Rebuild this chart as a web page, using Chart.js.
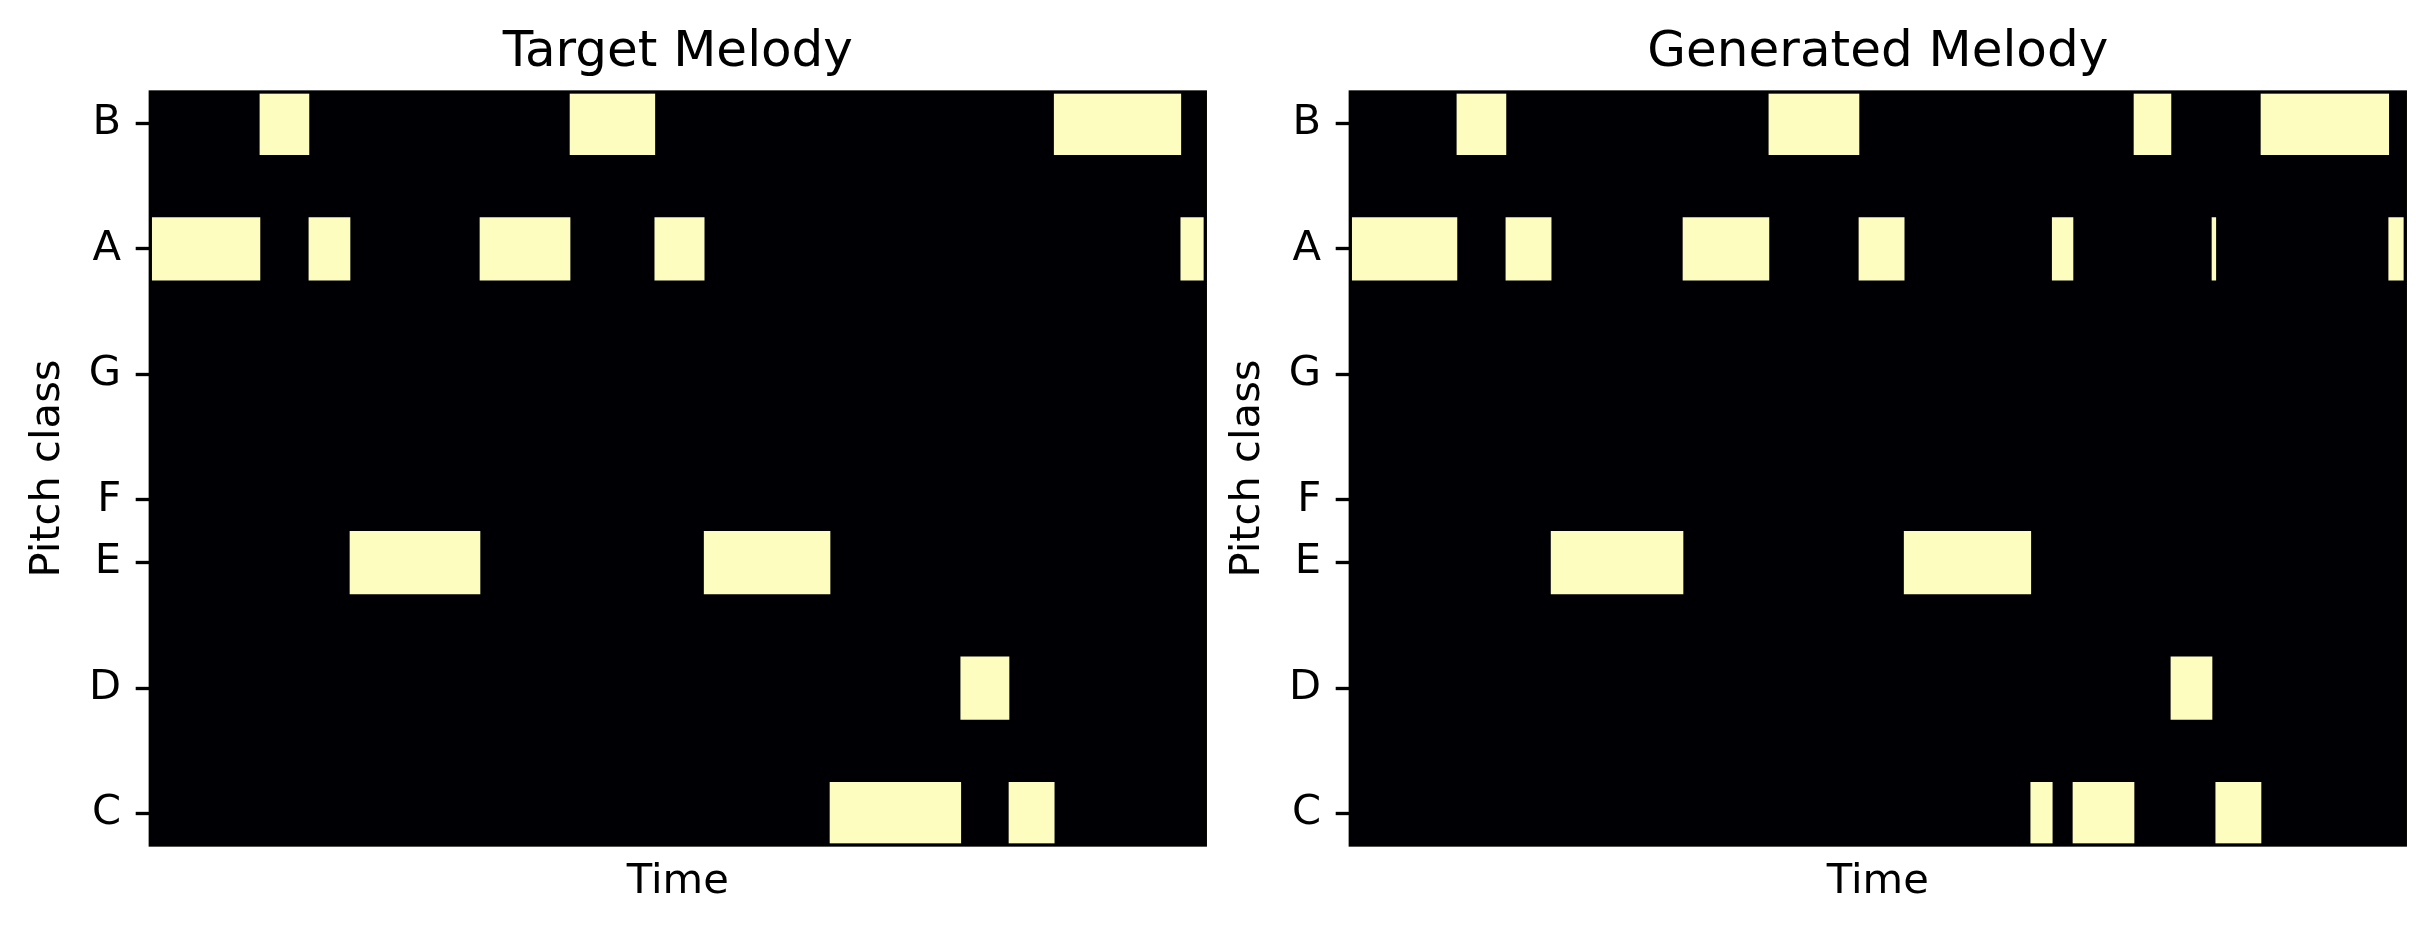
<!DOCTYPE html>
<html>
<head>
<meta charset="utf-8">
<script src="https://cdn.jsdelivr.net/npm/chart.js@4.4.1/dist/chart.umd.min.js"></script>
<style>
  html, body { margin: 0; padding: 0; background: #ffffff; }
  #wrap { position: relative; width: 2434px; height: 934px; overflow: hidden; }
  #wrap canvas { position: absolute; top: 0; }
</style>
</head>
<body>
<div id="wrap">
  <canvas id="left" width="1234" height="934" style="left:0px"></canvas>
  <canvas id="right" width="1234" height="934" style="left:1200px"></canvas>
</div>
<script>
// ---------------- data ----------------
const PITCH_CLASSES = ['C', 'C#', 'D', 'D#', 'E', 'F', 'F#', 'G', 'G#', 'A', 'A#', 'B'];
const TIME_STEPS = 280;

const TARGET_TITLE = 'Target Melody';
const targetPitches = ['A', 'B', 'A', 'E', 'A', 'B', 'A', 'E', 'C', 'D', 'C', 'B', 'A'];
const targetOnsets  = [0, 29.1, 42.1, 53.0, 87.5, 111.4, 133.9, 147.0, 180.4, 215.1, 227.9, 239.9, 273.5];
const targetOffsets = [29.1, 42.1, 53.0, 87.5, 111.4, 133.9, 147.0, 180.4, 215.1, 227.9, 239.9, 273.5, 280];

const GENERATED_TITLE = 'Generated Melody';
const generatedPitches = ['A', 'B', 'A', 'E', 'A', 'B', 'A', 'E', 'C', 'A', 'C', 'B', 'D', 'A', 'C', 'B', 'A'];
const generatedOnsets  = [0, 28.3, 41.3, 53.3, 88.3, 111.1, 135.0, 147.0, 180.6, 186.3, 191.8, 208.0, 217.8, 228.7, 229.7, 241.7, 275.6];
const generatedOffsets = [28.3, 41.3, 53.3, 88.3, 111.1, 135.0, 147.0, 180.6, 186.3, 191.8, 208.0, 217.8, 228.7, 229.7, 241.7, 275.6, 280];

const X_LABEL = 'Time';
const Y_LABEL = 'Pitch class';

// ---------------- style ----------------
const BG_COLOR = '#000004';
const NOTE_COLOR = '#fcfdbf';
const FONT = 'DejaVu Sans';
const TICK_FONT = 41.67;
const TITLE_FONT = 50;
const SPINE_W = 3.33;

Chart.defaults.font.family = FONT;
Chart.defaults.color = '#000000';

const isNatural = (name) => name.indexOf('#') === -1;

const framePlugin = {
  id: 'frame',
  beforeDatasetsDraw(chart) {
    const { ctx, chartArea: a } = chart;
    ctx.save();
    ctx.fillStyle = BG_COLOR;
    ctx.fillRect(a.left, a.top, a.right - a.left, a.bottom - a.top);
    ctx.restore();
  },
  afterDatasetsDraw(chart) {
    const { ctx, chartArea: a } = chart;
    ctx.save();
    ctx.strokeStyle = '#000000';
    ctx.lineWidth = SPINE_W;
    ctx.strokeRect(a.left, a.top, a.right - a.left, a.bottom - a.top);
    ctx.restore();
  }
};

function makeChart(canvasId, title, pitches, onsets, offsets) {
  const notes = pitches.map((p, i) => ({ x: [onsets[i], offsets[i]], y: p }));
  return new Chart(document.getElementById(canvasId), {
    type: 'bar',
    data: {
      labels: PITCH_CLASSES,
      datasets: [{
        data: notes,
        backgroundColor: NOTE_COLOR,
        borderWidth: 0,
        barPercentage: 1.0,
        categoryPercentage: 1.0,
        grouped: false
      }]
    },
    options: {
      indexAxis: 'y',
      responsive: false,
      animation: false,
      devicePixelRatio: 1,
      layout: { padding: { left: 0, right: 28.7, top: 0, bottom: 0 } },
      plugins: { legend: { display: false }, tooltip: { enabled: false }, title: { display: false } },
      scales: {
        x: {
          type: 'linear',
          position: 'bottom',
          min: 0,
          max: TIME_STEPS,
          ticks: { display: false },
          grid: { display: false },
          border: { display: false },
          title: {
            display: true,
            text: X_LABEL,
            font: { size: TICK_FONT, lineHeight: 1.2 },
            padding: { top: 0, bottom: 26.7 }
          },
          afterFit(scale) { scale.height = 89; }
        },
        x2: {
          type: 'linear',
          position: 'top',
          min: 0,
          max: TIME_STEPS,
          ticks: { display: false },
          grid: { display: false },
          border: { display: false },
          title: {
            display: true,
            text: title,
            font: { size: TITLE_FONT, lineHeight: 1.2 },
            padding: { top: 22.7, bottom: 0 }
          },
          afterFit(scale) { scale.height = 92; }
        },
        y: {
          type: 'category',
          position: 'left',
          reverse: true,
          offset: true,
          ticks: {
            autoSkip: false,
            padding: 14.6,
            font: { size: TICK_FONT },
            callback(value) {
              const name = this.getLabelForValue(value);
              return isNatural(name) ? name : '';
            }
          },
          grid: {
            display: true,
            offset: false,
            drawOnChartArea: false,
            drawTicks: true,
            tickLength: 14.6,
            tickWidth: SPINE_W,
            tickColor: (ctx) => (isNatural(PITCH_CLASSES[ctx.index] || 'C') ? '#000000' : 'rgba(0,0,0,0)')
          },
          border: { display: false },
          title: {
            display: true,
            text: Y_LABEL,
            font: { size: TICK_FONT, lineHeight: 1.2 },
            padding: { top: 23.6, bottom: 0 }
          },
          afterFit(scale) { scale.width = 150.3; }
        }
      }
    },
    plugins: [framePlugin]
  });
}

makeChart('left', TARGET_TITLE, targetPitches, targetOnsets, targetOffsets);
makeChart('right', GENERATED_TITLE, generatedPitches, generatedOnsets, generatedOffsets);
</script>
</body>
</html>
